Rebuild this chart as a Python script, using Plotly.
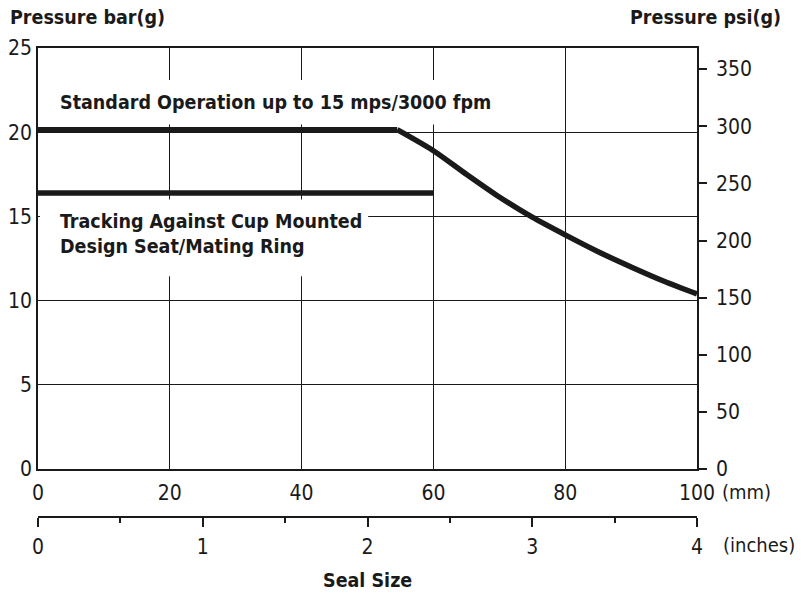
import plotly.graph_objects as go

# ---- data ----
flat_mm = [0, 54.5]
flat_bar = [20.15, 20.15]
curve_mm = [54.5, 60, 65, 70, 75, 80, 85, 90, 95, 100]
curve_bar = [20.15, 18.9, 17.5, 16.15, 14.95, 13.9, 12.9, 12.0, 11.15, 10.4]
track_mm = [0, 60]
track_bar = [16.39, 16.39]

bar_ticks = [0, 5, 10, 15, 20, 25]
psi_ticks = [0, 50, 100, 150, 200, 250, 300, 350]
mm_ticks = [0, 20, 40, 60, 80, 100]
inch_ticks = [0, 1, 2, 3, 4]

FONT = "DejaVu Sans Condensed, Liberation Sans Narrow, sans-serif"
INK = "#1a1a1a"

# plot area pixel geometry
L, R, T, B_AXIS, B_PLOT = 38, 697, 48, 517, 469
W, H = 801, 595


def px(x):
    return (x - L) / (R - L)


def py(y):
    return (B_AXIS - y) / (B_AXIS - T)


fig = go.Figure()
fig.add_trace(go.Scatter(x=flat_mm, y=flat_bar, mode="lines",
                         line=dict(color=INK, width=5.5), hoverinfo="skip", showlegend=False))
fig.add_trace(go.Scatter(x=curve_mm, y=curve_bar, mode="lines", line_shape="spline",
                         line=dict(color=INK, width=5.5, smoothing=0.8), hoverinfo="skip",
                         showlegend=False))
fig.add_trace(go.Scatter(x=track_mm, y=track_bar, mode="lines",
                         line=dict(color=INK, width=5.5), hoverinfo="skip",
                         showlegend=False))
# invisible traces to activate secondary axes
fig.add_trace(go.Scatter(x=inch_ticks, y=[None] * len(inch_ticks), xaxis="x2", yaxis="y",
                         mode="lines", showlegend=False, hoverinfo="skip"))
fig.add_trace(go.Scatter(x=[None] * len(psi_ticks), y=psi_ticks, xaxis="x", yaxis="y2",
                         mode="lines", showlegend=False, hoverinfo="skip"))

tickfont = dict(family=FONT, size=21, color=INK)
dom_bottom = (B_AXIS - B_PLOT) / (B_AXIS - T)

fig.update_layout(
    width=W, height=H,
    margin=dict(l=L, r=W - R, t=T, b=H - B_AXIS, pad=0, autoexpand=False),
    plot_bgcolor="white", paper_bgcolor="white",
    showlegend=False,
    xaxis=dict(range=[0, 100], tickvals=mm_ticks, showgrid=True, gridcolor=INK, gridwidth=1.3,
               showline=True, linecolor=INK, linewidth=1.6, mirror=True, ticks="",
               zeroline=False, tickfont=tickfont, ticklabelstandoff=4, automargin=False),
    xaxis2=dict(range=[0, 4], tickvals=inch_ticks, overlaying="x", anchor="free", position=0,
                side="bottom", showgrid=False, showline=True, linecolor=INK, linewidth=1.6,
                ticks="outside", ticklen=9, tickwidth=1.6, tickcolor=INK,
                minor=dict(dtick=0.5, ticks="outside", ticklen=5, tickwidth=1.6,
                           tickcolor=INK, showgrid=False),
                zeroline=False, tickfont=tickfont, ticklabelstandoff=2, automargin=False),
    yaxis=dict(range=[0, 25], tickvals=bar_ticks, domain=[dom_bottom, 1], showgrid=True,
               gridcolor=INK, gridwidth=1.3, showline=True, linecolor=INK, linewidth=1.6,
               mirror=True, ticks="", zeroline=False, tickfont=tickfont,
               ticklabelstandoff=0, automargin=False),
    yaxis2=dict(range=[0, 368.5], tickvals=psi_ticks, overlaying="y", side="right",
                showgrid=False, showline=True, linecolor=INK, linewidth=1.6,
                ticks="outside", ticklen=8, tickwidth=1.6, tickcolor=INK,
                zeroline=False, tickfont=tickfont, ticklabelstandoff=5, automargin=False),
)

# white masks over the gridlines behind the in-plot labels
fig.add_shape(type="rect", xref="x", yref="y", x0=0.3, x1=68, y0=20.45, y1=23.1,
              fillcolor="white", line_width=0, layer="between")
fig.add_shape(type="rect", xref="x", yref="y", x0=0.3, x1=50.1, y0=11.45, y1=16.0,
              fillcolor="white", line_width=0, layer="between")

bold = dict(family=FONT, size=19.5, color=INK, weight="bold")
plain = dict(family=FONT, size=20, color=INK)

fig.add_annotation(text="Standard Operation up to 15 mps/3000 fpm", xref="x", yref="y",
                   x=3.0, y=21.75, xanchor="left", yanchor="middle", showarrow=False, font=bold)
fig.add_annotation(text="Tracking Against Cup Mounted<br>Design Seat/Mating Ring", xref="x",
                   yref="y", x=3.0, y=13.95, xanchor="left", yanchor="middle", align="left",
                   showarrow=False, font=bold)
fig.add_annotation(text="Pressure bar(g)", xref="paper", yref="paper", x=px(8), y=py(18),
                   xanchor="left", yanchor="middle", showarrow=False, font=bold)
fig.add_annotation(text="Pressure psi(g)", xref="paper", yref="paper", x=px(783), y=py(18),
                   xanchor="right", yanchor="middle", showarrow=False, font=bold)
fig.add_annotation(text="(mm)", xref="paper", yref="paper", x=px(720), y=py(492),
                   xanchor="left", yanchor="middle", showarrow=False, font=plain)
fig.add_annotation(text="(inches)", xref="paper", yref="paper", x=px(721), y=py(545),
                   xanchor="left", yanchor="middle", showarrow=False, font=plain)
fig.add_annotation(text="Seal Size", xref="paper", yref="paper", x=px(367), y=py(580),
                   xanchor="center", yanchor="middle", showarrow=False, font=bold)

fig.write_html("out.html", config={"displayModeBar": False},
               post_script="document.body.style.margin='0';")
